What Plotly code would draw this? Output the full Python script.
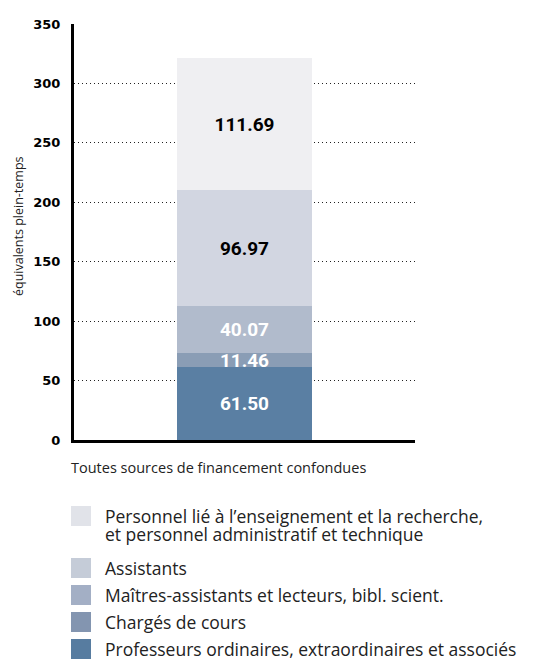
import plotly.graph_objects as go

# Effectifs (équivalents plein-temps) par catégorie de personnel, de bas en haut
categorie = ["Toutes sources de financement confondues"]
series = [
    "Professeurs ordinaires, extraordinaires et associés",
    "Chargés de cours",
    "Maîtres-assistants et lecteurs, bibl. scient.",
    "Assistants",
    "Personnel lié à l’enseignement et la recherche,\net personnel administratif et technique",
]
valeurs = [61.50, 11.46, 40.07, 96.97, 111.69]
couleurs_barres = ["#5A7FA3", "#8A9DB5", "#B1BBCC", "#D2D6E1", "#EFEFF2"]
couleurs_legende = ["#577CA0", "#8395B0", "#A3AFC5", "#C5CCD8", "#E1E3E9"]
couleurs_texte = ["white", "white", "white", "black", "black"]
graduations = [0, 50, 100, 150, 200, 250, 300, 350]

W, H = 536, 659
L, R, T, B = 74, 121, 24, 219

fig = go.Figure()
for nom, v, c, tc in zip(series, valeurs, couleurs_barres, couleurs_texte):
    fig.add_trace(go.Bar(
        x=[0], y=[v], name=nom.replace("\n", " "), marker=dict(color=c, line=dict(width=0)),
        width=0.396, text=[f"{v:.2f}"], textposition="inside",
        insidetextanchor="middle", constraintext="none",
        textfont=dict(family="Roboto", size=19, color=tc, weight="bold"),
        showlegend=False, cliponaxis=False,
    ))

fig.update_layout(
    width=W, height=H, barmode="stack",
    margin=dict(l=L, r=R, t=T, b=B),
    paper_bgcolor="white", plot_bgcolor="white",
    xaxis=dict(range=[-0.5, 0.5], showticklabels=False, showgrid=False,
               zeroline=False, showline=True, linewidth=3, linecolor="black"),
    yaxis=dict(range=[0, 350], tickvals=graduations, showgrid=True,
               gridcolor="#222222", griddash="1px,3px", gridwidth=1,
               zeroline=False, showline=True, linewidth=3, linecolor="black",
               ticks="", ticklabelstandoff=8,
               tickfont=dict(family="DejaVu Sans", size=13, color="black", weight="bold")),
)

pw, ph = W - L - R, H - T - B
def px(xp):
    return (xp - L) / pw
def py(yp):
    return (H - B - yp) / ph

annotations = [
    dict(text="équivalents plein-temps", textangle=-90, xref="paper", yref="paper",
         x=px(18), y=py(226), xanchor="center", yanchor="middle", showarrow=False,
         font=dict(family="Open Sans", size=12.5, color="#222")),
    dict(text=categorie[0], xref="paper", yref="paper",
         x=px(69), y=py(467), xanchor="left", yanchor="middle", showarrow=False,
         font=dict(family="Open Sans", size=14.5, color="#222")),
]

# Légende dessinée à la main : carrés et libellés (une annotation par ligne)
carres_y = [649, 622, 595, 568, 516]
shapes = []
for nom, c, yc in zip(series, couleurs_legende, carres_y):
    shapes.append(dict(type="rect", xref="paper", yref="paper",
                       x0=px(71), x1=px(91), y0=py(yc - 10), y1=py(yc + 10),
                       fillcolor=c, line=dict(width=0)))
    for i, ligne in enumerate(nom.split("\n")):
        annotations.append(dict(
            text=ligne, xref="paper", yref="paper", x=px(103), y=py(yc + 18 * i),
            xanchor="left", yanchor="middle", align="left", showarrow=False,
            font=dict(family="Open Sans", size=17.5, color="#222")))

fig.update_layout(annotations=annotations, shapes=shapes)
fig.write_html("out.html")
